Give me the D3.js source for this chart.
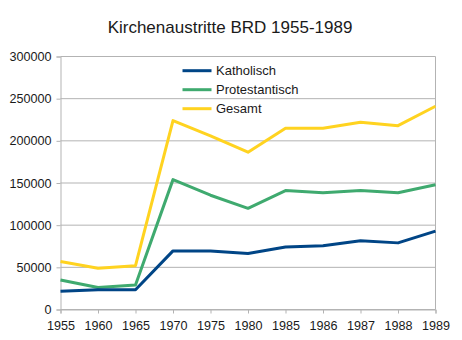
<!DOCTYPE html>
<html><head><meta charset="utf-8">
<script src="https://cdn.jsdelivr.net/npm/d3@7"></script>
<style>body{margin:0;background:#fff;}svg{display:block;font-family:"Liberation Sans",Arial,sans-serif;}</style>
</head><body><svg id="c" width="462" height="340"></svg>
<script>
const years = ["1955","1960","1965","1970","1975","1980","1985","1986","1987","1988","1989"];
const katholisch = [21500, 23500, 23500, 69500, 69500, 66500, 74000, 75500, 81500, 79000, 93000];
const protestantisch = [35000, 26000, 29000, 154000, 135500, 120000, 141000, 138500, 141000, 138500, 148000];
const gesamt = [57000, 49000, 52000, 224000, 206000, 186500, 215000, 215000, 222000, 218000, 241000];
const seriesNames = ["Katholisch","Protestantisch","Gesamt"];
const colors = ["#004586","#3faa6f","#ffd320"];
const yTicks = [0,50000,100000,150000,200000,250000,300000];
const title = "Kirchenaustritte BRD 1955-1989";

const svg = d3.select("#c");
const L=60.5, R=435.5, T=56.5, B=309.5;
const x = d3.scalePoint().domain(years).range([L,R]);
const y = d3.scaleLinear().domain([0,300000]).range([B,T]);

// gridlines
svg.append("g").selectAll("line").data(yTicks).join("line")
  .attr("x1",L).attr("x2",R).attr("y1",d=>y(d)).attr("y2",d=>y(d))
  .attr("stroke","#b3b3b3").attr("stroke-width",1);
svg.append("line").attr("x1",R).attr("x2",R).attr("y1",T).attr("y2",B).attr("stroke","#b3b3b3");

// axes
const ya = d3.axisLeft(y).tickValues(yTicks).tickSize(4).tickPadding(5).tickFormat(d=>String(d));
const yg = svg.append("g").attr("transform",`translate(${L},0)`).call(ya);
const xa = d3.axisBottom(x).tickSize(4).tickPadding(8);
const xg = svg.append("g").attr("transform",`translate(0,${B})`).call(xa);
[yg,xg].forEach(g=>{
  g.selectAll("path.domain").attr("stroke","#b3b3b3");
  g.selectAll(".tick line").attr("stroke","#b3b3b3");
  g.selectAll("text").attr("fill","#1a1a1a").style("font-size","12.6px").style("font-family","Liberation Sans, Arial, sans-serif");
});

// lines
const data = [katholisch, protestantisch, gesamt];
const line = d3.line().x((d,i)=>x(years[i])).y(d=>y(d));
svg.append("g").selectAll("path").data([gesamt,protestantisch,katholisch]).join("path")
  .attr("d",line).attr("fill","none")
  .attr("stroke",(d)=>colors[data.indexOf(d)]).attr("stroke-width",3).attr("stroke-linejoin","round");

// legend
const lg = svg.append("g");
seriesNames.forEach((n,i)=>{
  const ly = 70.7 + i*19;
  lg.append("line").attr("x1",182.5).attr("x2",211.5).attr("y1",ly).attr("y2",ly)
    .attr("stroke",colors[i]).attr("stroke-width",3);
  lg.append("text").attr("x",216).attr("y",ly+4.6).text(n)
    .attr("fill","#1a1a1a").style("font-size","13px");
});

// title
svg.append("text").attr("x",230).attr("y",33).attr("text-anchor","middle")
  .text(title).attr("fill","#1a1a1a").style("font-size","17px");
</script></body></html>
